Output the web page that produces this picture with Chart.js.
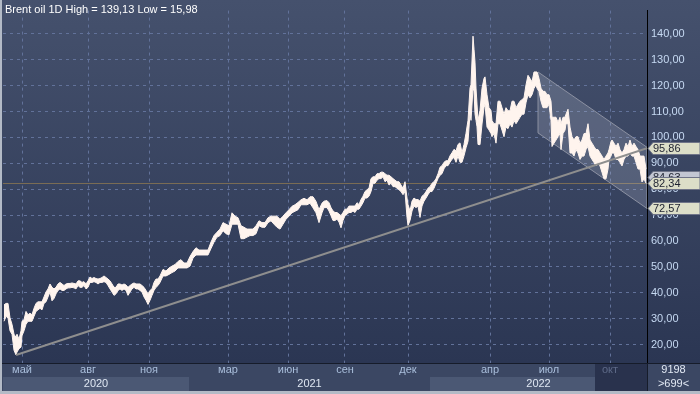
<!DOCTYPE html>
<html><head><meta charset="utf-8">
<script src="https://cdn.jsdelivr.net/npm/chart.js@4/dist/chart.umd.min.js"></script>
<style>html,body{margin:0;padding:0;background:#2c3753;overflow:hidden}canvas{display:block}</style>
</head><body>
<canvas id="c" width="700" height="394"></canvas>
<script>
// ---- data (trading-day index from chart start) ----
const tradingDay = [1,3,5,7,9,11,13,14,16,18,19,21,23,25,27,29,31,33,35,37,39,41,43,45,47,49,51,53,55,57,59,61,63,65,67,69,71,73,75,77,79,81,83,85,87,89,91,93,95,97,99,101,103,105,107,109,111,113,115,117,119,121,123,125,127,129,131,133,135,137,139,141,143,145,147,149,151,153,155,157,160,163,166,169,172,175,178,181,184,187,190,193,196,199,202,205,208,211,214,217,220,223,226,229,232,235,238,241,244,247,250,253,256,259,262,265,268,271,274,277,280,283,286,289,292,295,298,301,304,307,310,313,316,319,321,324,326,328,330,332,334,336,338,340,342,344,346,348,350,352,354,356,358,360,362,364,366,368,370,372,374,376,378,380,382,384,386,388,390,392,394,396,398,400,402,404,405,407,409,411,413,415,417,419,421,423,425,427,429,431,433,435,437,439,441,443,445,447,449,451,453,455,457,459,461,463,465,467,468,470,471,472,473,474,475,477,479,481,482,484,486,488,489,491,493,495,497,499,501,503,505,507,509,511,513,515,517,519,521,523,525,527,529,531,533,534,536,538,540,542,544,546,548,549,551,553,555,557,558,560,562,563,565,567,569,571,573,575,577,579,581,583,585,587,589,591,593,595,597,599,601,603,605,606,608,609,611,613,615,617,619,621,623,625,627,629,631,633,635,637,639,641,643];
const high = [35.3,35.9,35.9,30.3,27.8,24.0,22.8,24.0,22.1,25.3,29.0,29.6,32.8,31.5,32.1,31.5,34.0,35.9,36.5,36.5,36.5,38.4,40.3,41.5,43.4,42.1,41.5,42.1,43.4,44.0,43.4,42.8,43.4,43.6,43.6,43.8,43.6,43.4,44.6,44.6,44.0,44.3,43.4,44.6,46.1,45.5,45.9,45.5,45.3,45.5,45.9,46.5,45.9,45.3,44.6,43.4,42.1,42.1,43.4,43.4,43.0,43.4,43.0,42.1,42.8,43.4,43.8,43.4,43.4,43.4,42.8,42.1,40.9,39.6,40.9,41.5,44.0,45.3,45.3,46.5,49.0,48.4,49.6,50.3,50.9,52.1,52.8,51.5,51.5,54.0,55.9,57.4,56.5,56.5,56.5,56.5,59.6,62.1,63.4,64.6,67.1,66.5,65.9,70.9,69.6,69.0,65.9,65.3,64.6,64.6,64.6,65.9,67.8,67.1,67.1,69.0,69.6,69.6,69.6,68.4,69.6,70.9,72.1,73.4,74.0,74.9,75.9,76.5,75.9,77.1,77.1,75.3,72.1,74.6,75.4,75.6,74.8,72.9,71.6,71.0,71.0,70.4,69.8,71.0,72.3,72.3,73.5,73.5,73.5,73.5,74.8,74.1,76.0,77.3,79.1,79.8,80.4,84.1,84.8,84.8,86.0,86.0,86.6,86.6,86.0,85.4,85.4,84.8,84.1,83.5,82.9,82.9,81.6,80.4,82.9,76.6,74.1,71.6,75.4,76.6,76.0,76.0,75.4,77.3,77.9,79.1,80.4,81.0,82.3,82.9,84.1,86.0,88.5,89.1,90.4,91.0,91.0,92.9,94.1,95.4,94.8,97.3,97.9,94.1,97.3,101.6,106.6,119.1,120.4,139.13,134.1,129.1,119.1,112.9,106.6,110.4,119.0,122.8,123.4,116.5,111.5,110.4,106.5,105.3,105.3,114.0,114.0,111.5,109.0,111.5,110.3,110.3,114.0,114.0,111.5,112.8,114.0,114.6,115.3,120.3,124.0,122.8,121.5,125.3,125.3,125.3,122.8,119.0,117.8,117.8,116.5,116.5,114.0,107.8,107.8,107.8,105.9,107.8,105.3,107.8,107.8,109.0,110.9,104.0,100.3,99.0,100.3,100.3,97.8,99.0,101.5,101.5,105.3,99.0,97.8,96.5,95.3,95.3,94.0,92.8,91.5,92.8,94.0,95.3,98.4,99.0,97.8,96.5,97.8,95.3,94.0,95.3,97.8,96.5,99.0,96.5,97.8,96.5,95.3,92.8,92.8,92.8,87.8];
const low = [29.0,30.9,30.3,25.3,24.0,17.8,15.98,17.1,18.4,19.0,23.4,25.3,27.8,29.0,29.0,29.0,30.9,32.8,33.4,34.0,33.4,35.9,36.5,38.4,40.3,36.9,37.8,39.6,40.9,41.5,40.9,40.9,41.5,41.9,41.9,42.1,41.9,41.5,42.8,42.1,42.1,42.8,41.5,42.1,44.0,44.0,44.3,44.0,43.4,44.0,44.0,44.3,44.0,42.8,41.5,40.3,39.0,39.6,40.9,41.5,40.9,41.5,40.9,39.0,40.3,41.5,42.1,41.5,41.5,40.9,40.3,38.4,37.1,35.5,37.1,39.0,40.9,42.1,42.8,44.0,46.5,46.5,47.1,47.8,48.4,49.6,49.6,49.6,49.6,50.3,53.4,54.6,54.6,54.6,54.6,54.6,57.1,59.6,61.5,62.1,64.0,62.8,62.4,66.5,66.5,66.5,60.9,60.9,61.5,62.1,62.1,62.8,65.9,65.3,65.3,67.1,67.8,66.5,65.3,64.6,66.5,68.4,69.6,70.9,71.5,72.1,74.0,74.0,74.0,74.6,72.8,70.9,67.1,70.9,72.9,72.9,71.6,69.8,67.9,67.9,68.5,67.3,65.1,67.9,69.8,70.4,71.0,71.0,71.6,71.0,72.3,72.3,73.5,74.8,76.6,76.6,77.3,79.1,82.3,82.3,83.5,84.1,84.1,84.8,82.9,83.5,81.6,82.3,81.0,81.0,80.4,79.8,79.1,77.9,79.1,69.1,66.0,67.9,71.6,73.5,72.9,73.5,69.1,73.5,75.4,76.6,77.9,79.1,79.1,80.4,82.3,84.1,85.4,86.0,87.9,89.1,89.1,90.4,91.6,92.3,90.4,92.9,90.4,90.4,92.9,96.0,98.5,109.1,106.6,119.1,117.9,109.1,106.6,104.1,97.3,97.2,105.2,111.5,112.8,104.0,102.9,101.5,100.3,101.5,97.8,105.3,105.3,102.8,100.3,104.0,103.4,105.3,104.0,106.5,105.3,106.5,107.8,109.0,109.0,113.4,116.5,115.3,116.5,119.0,120.3,119.0,117.8,114.0,111.5,111.5,111.5,112.8,106.5,96.5,97.8,99.0,100.3,101.5,95.3,101.5,102.8,105.3,105.3,94.0,94.0,92.8,95.3,94.0,91.5,92.8,92.8,95.3,96.5,92.8,91.5,90.3,89.0,90.3,89.0,86.5,84.0,84.0,87.8,91.5,92.8,94.0,94.0,91.5,91.5,90.3,89.0,91.5,92.8,92.8,94.0,92.8,92.8,90.3,87.8,87.8,82.8,84.0,82.3];

const titleText = 'Brent oil 1D High = 139,13 Low = 15,98';
const yTicks = [20,30,40,50,60,70,80,90,100,110,120,130,140];
const monthDays = [19,85,146,225,285,342,405,487,546,607];
const monthLabels = ['май','авг','ноя','мар','июн','сен','дек','апр','июл','окт'];
const yearLabels = ['2020','2021','2022'];
const yearStart = [0,186,427];
const yearEnd = [186,427,644];
const futureFrom = 592;
const trendDays = [13,644];
const trendValues = [15.98,95.86];
const channelDays = [535,644];
const channelUpper = [125.3,96.2];
const channelLower = [101.75,72.57];
const lastClose = 82.34;
const markerValues = [95.86,84.63,82.34,72.57];
const markerKinds = ['main','aux','main','main'];
const footerTexts = ['9198','>699<'];

const FAMILY = '"Liberation Sans Narrow", "Liberation Sans", Arial, sans-serif';
const FONT = '11px ' + FAMILY;
const fmt = v => v.toFixed(2).replace('.', ',');

const bgPlugin = {
  id: 'bg',
  beforeDraw(chart) {
    const {ctx, chartArea: a} = chart;
    const g = ctx.createLinearGradient(0, 0, 0, a.bottom);
    g.addColorStop(0, '#45516d');
    g.addColorStop(1, '#2b3653');
    ctx.save();
    ctx.fillStyle = g;
    ctx.fillRect(0, 0, chart.width, a.bottom);
    ctx.restore();
  },
  beforeDatasetsDraw(chart) {
    const {ctx, chartArea: a, scales: {x, y}} = chart;
    ctx.save();
    ctx.beginPath(); ctx.rect(a.left, a.top, a.right - a.left, a.bottom - a.top); ctx.clip();
    // last close line
    const yc = Math.round(y.getPixelForValue(lastClose)) + 0.5;
    ctx.strokeStyle = '#7a6c54'; ctx.lineWidth = 1;
    ctx.beginPath(); ctx.moveTo(a.left, yc); ctx.lineTo(a.right, yc); ctx.stroke();
    // channel
    ctx.beginPath();
    ctx.moveTo(x.getPixelForValue(channelDays[0]), y.getPixelForValue(channelUpper[0]));
    ctx.lineTo(x.getPixelForValue(channelDays[1]), y.getPixelForValue(channelUpper[1]));
    ctx.lineTo(x.getPixelForValue(channelDays[1]), y.getPixelForValue(channelLower[1]));
    ctx.lineTo(x.getPixelForValue(channelDays[0]), y.getPixelForValue(channelLower[0]));
    ctx.closePath();
    ctx.fillStyle = 'rgba(205,210,225,0.2)';
    ctx.fill();
    ctx.strokeStyle = 'rgba(150,155,170,0.85)';
    ctx.stroke();
    ctx.restore();
  },
  afterDraw(chart) {
    const {ctx, chartArea: a, scales: {x, y}} = chart;
    const W = chart.width, H = chart.height;
    ctx.save();
    ctx.font = FONT;
    // title
    ctx.fillStyle = '#ffffff'; ctx.textBaseline = 'middle'; ctx.textAlign = 'left';
    ctx.fillText(titleText, a.left + 2, 10);
    // value markers
    markerValues.forEach((v, i) => {
      const yy = Math.round(y.getPixelForValue(v));
      const x0 = a.right + 1;
      ctx.beginPath();
      ctx.moveTo(x0, yy + 0.5);
      ctx.lineTo(x0 + 5, yy - 5.5);
      ctx.lineTo(W, yy - 5.5);
      ctx.lineTo(W, yy + 6.5);
      ctx.lineTo(x0 + 5, yy + 6.5);
      ctx.closePath();
      ctx.fillStyle = markerKinds[i] === 'main' ? '#dcdec8' : '#c2c6d2';
      ctx.fill();
      ctx.strokeStyle = '#6f7488'; ctx.lineWidth = 1; ctx.stroke();
      ctx.fillStyle = '#1e2230';
      ctx.textAlign = 'left'; ctx.textBaseline = 'middle';
      ctx.fillText(fmt(v), x0 + 5, yy + 1);
    });
    // bottom axis area
    const top = a.bottom;
    ctx.fillStyle = '#3b4763';
    ctx.fillRect(0, top, W, H - top);
    ctx.fillStyle = '#161c2a';
    ctx.fillRect(0, top, W, 1);
    const rowSplit = top + 14;
    const bottomEdge = H - 3;
    yearLabels.forEach((lab, i) => {
      const xs = x.getPixelForValue(yearStart[i]);
      const xe = x.getPixelForValue(Math.min(yearEnd[i], futureFrom));
      if (i % 2 === 0) {
        ctx.fillStyle = '#4b5874';
        ctx.fillRect(xs, rowSplit, xe - xs, bottomEdge - rowSplit);
      }
    });
    const xf = x.getPixelForValue(futureFrom);
    ctx.fillStyle = '#29324d';
    ctx.fillRect(xf, top + 1, a.right - xf, bottomEdge - top - 1);
    ctx.textAlign = 'center'; ctx.textBaseline = 'middle';
    monthLabels.forEach((lab, i) => {
      ctx.fillStyle = monthDays[i] >= futureFrom ? '#5e6a88' : '#aabfdc';
      ctx.fillText(lab, x.getPixelForValue(monthDays[i]), top + 7);
    });
    yearLabels.forEach((lab, i) => {
      const xs = x.getPixelForValue(yearStart[i]);
      const xe = x.getPixelForValue(yearEnd[i]);
      ctx.fillStyle = '#dfe7f3';
      ctx.fillText(lab, (xs + xe) / 2, rowSplit + 7);
    });
    // right footer box
    ctx.fillStyle = '#161c2a';
    ctx.fillRect(a.right, top, 1, bottomEdge - top);
    ctx.fillStyle = '#e2e9f4';
    ctx.fillText(footerTexts[0], (a.right + W) / 2, top + 7);
    ctx.fillText(footerTexts[1], (a.right + W) / 2, rowSplit + 7);
    // window frame
    ctx.fillStyle = '#b3bac6';
    ctx.fillRect(0, 0, 2, H);
    ctx.fillRect(0, H - 3, W, 3);
    ctx.restore();
  }
};

const pts = (xs, ys) => xs.map((d, i) => ({x: d, y: ys[i]}));

new Chart(document.getElementById('c'), {
  type: 'line',
  data: {
    datasets: [
      {label: 'trend', data: pts(trendDays, trendValues), borderColor: '#8e8e8e', borderWidth: 2, pointRadius: 0, fill: false, order: 0},
      {label: 'high', data: pts(tradingDay, high), borderColor: '#fff4ee', borderWidth: 1, pointRadius: 0, fill: false, order: 2},
      {label: 'low', data: pts(tradingDay, low), borderColor: '#fff4ee', backgroundColor: '#fff4ee', borderWidth: 1, pointRadius: 0, fill: '-1', order: 1}
    ]
  },
  options: {
    responsive: false,
    animation: false,
    devicePixelRatio: 1,
    layout: {padding: {left: 3, right: 0, top: 0, bottom: 0}},
    plugins: {legend: {display: false}, tooltip: {enabled: false}},
    elements: {line: {tension: 0}},
    scales: {
      x: {
        type: 'linear', min: 0, max: 644,
        afterBuildTicks: s => { s.ticks = monthDays.map(v => ({value: v})); },
        afterFit: s => { s.height = 31; },
        ticks: {display: false},
        grid: {color: '#62729a', drawTicks: false, lineWidth: 1},
        border: {display: false, dash: [3, 4]}
      },
      y: {
        position: 'right', min: 12.875, max: 149,
        afterBuildTicks: s => { s.ticks = yTicks.map(v => ({value: v})); },
        afterFit: s => { s.width = 53; },
        ticks: {color: '#c6d9f2', font: {family: FAMILY, size: 11}, padding: 4, callback: v => fmt(v)},
        grid: {color: '#62729a', drawTicks: false, lineWidth: 1},
        border: {display: true, color: '#000000', width: 1, dash: [3, 4]}
      }
    }
  },
  plugins: [bgPlugin]
});
</script>
</body></html>
